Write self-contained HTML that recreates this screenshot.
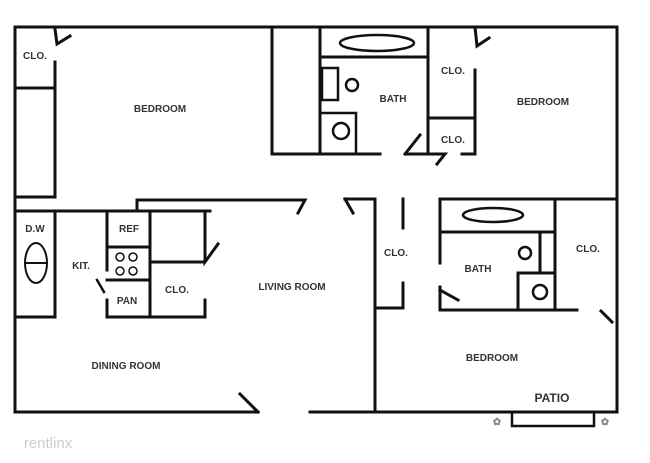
<!DOCTYPE html>
<html><head><style>
html,body{margin:0;padding:0;background:#fff;}
svg{display:block;}
text{font-family:"Liberation Sans",sans-serif;font-weight:bold;font-size:10px;fill:#333;text-anchor:middle;}
</style></head><body>
<svg width="650" height="463" viewBox="0 0 650 463" xmlns="http://www.w3.org/2000/svg">
<g stroke="#111" stroke-width="3" fill="none" stroke-linecap="square">
<!-- outer -->
<path d="M15 27 H617 V412 H310 M258 412 H15 V27"/>
<path d="M240 394 L258 412"/>
<!-- top-left closet -->
<path d="M55 29 L57 44 L70 36"/>
<path d="M55 62 V197 H15 M15 88 H55"/>
<!-- middle horizontal walls -->
<path d="M15 211 H210 M137 211 V200 H305 L298 213"/>
<path d="M345 199 H375 M345 199 L353 213"/>
<!-- kitchen -->
<path d="M55 211 V317 H15"/>
<ellipse cx="36" cy="263" rx="11" ry="20" stroke-width="2"/>
<path d="M25 263 H47" stroke-width="2"/>
<path d="M107 211 V270 M107 300 V317 H205 V300 M150 211 V317 M107 247 H150 M107 280 H150 M150 262 H203 M205 211 V262 L218 244"/>
<path d="M97 280 L104 292" stroke-width="2.5"/>
<!-- top middle -->
<path d="M272 27 V154 H380 M320 27 V154 M320 57 H428 M428 27 V154 M405 154 L420 135 M407 154 H428"/>
<ellipse cx="377" cy="43" rx="37" ry="8" stroke-width="2.5"/>
<rect x="322" y="68" width="16" height="32" stroke-width="2.5"/>
<circle cx="352" cy="85" r="6" stroke-width="2.5"/>
<path d="M322 113 H356 V154" stroke-width="2.5"/>
<circle cx="341" cy="131" r="8" stroke-width="2.5"/>
<path d="M428 118 H475 M475 27 L477 46 L489 38 M475 70 V154 H462 M428 154 H445 L437 164"/>
<!-- bottom right -->
<path d="M375 199 V412 M403 199 V228 M403 283 V308 H375"/>
<path d="M440 199 H617 M440 199 V263 M440 287 V310 H577 M440 290 L458 300 M440 232 H555 M555 199 V310 M540 232 V273 M518 273 H555 M518 273 V310"/>
<ellipse cx="493" cy="215" rx="30" ry="7" stroke-width="2.5"/>
<circle cx="525" cy="253" r="6" stroke-width="2.5"/>
<circle cx="540" cy="292" r="7" stroke-width="2.5"/>
<path d="M601 311 L612 322"/>
<rect x="512" y="412" width="82" height="14" stroke-width="2.5"/>
</g>
<g fill="none" stroke="#111" stroke-width="1.5">
<circle cx="120" cy="257" r="4"/><circle cx="133" cy="257" r="4"/>
<circle cx="120" cy="271" r="4"/><circle cx="133" cy="271" r="4"/>
</g>
<g fill="#888" font-size="10">
<text x="497" y="425" style="fill:#888">✿</text>
<text x="605" y="425" style="fill:#888">✿</text>
</g>
<text x="35" y="59">CLO.</text>
<text x="160" y="112">BEDROOM</text>
<text x="393" y="102">BATH</text>
<text x="543" y="105">BEDROOM</text>
<text x="453" y="74">CLO.</text>
<text x="453" y="143">CLO.</text>
<text x="35" y="232">D.W</text>
<text x="81" y="269">KIT.</text>
<text x="129" y="232">REF</text>
<text x="127" y="304">PAN</text>
<text x="177" y="293">CLO.</text>
<text x="292" y="290">LIVING ROOM</text>
<text x="126" y="369">DINING ROOM</text>
<text x="396" y="256">CLO.</text>
<text x="478" y="272">BATH</text>
<text x="588" y="252">CLO.</text>
<text x="492" y="361">BEDROOM</text>
<text x="552" y="402" style="font-size:12px">PATIO</text>
<text x="48" y="448" style="font-size:15px;font-weight:normal;fill:#ccc">rentlinx</text>
</svg>
</body></html>
